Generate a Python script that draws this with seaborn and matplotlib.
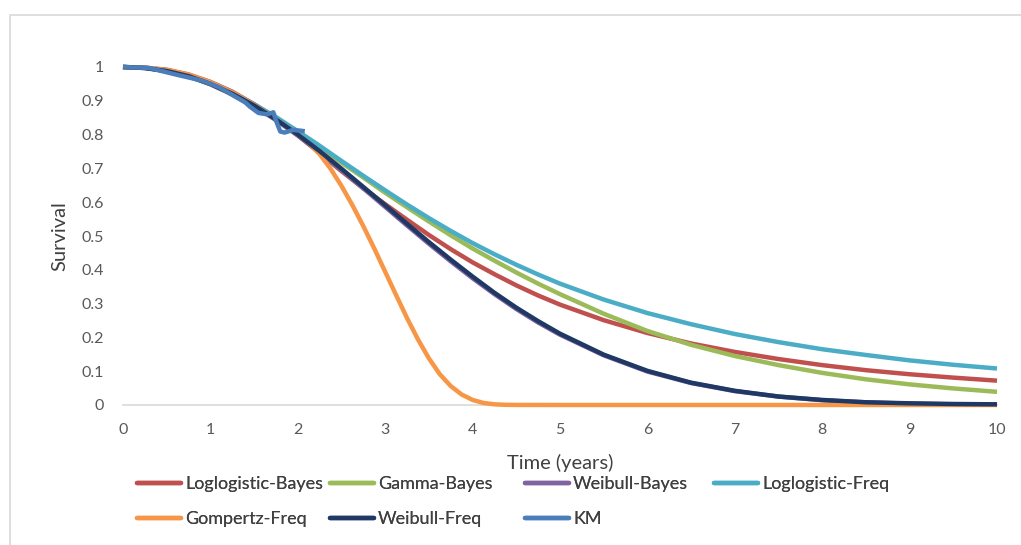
import numpy as np
import pandas as pd
import matplotlib
matplotlib.use("Agg")
import matplotlib.pyplot as plt
from matplotlib.lines import Line2D
from matplotlib.patches import Rectangle
import seaborn as sns

# ---------------- data ----------------
t = [0, 0.25, 0.5, 0.75, 1.0, 1.25, 1.5, 1.75, 2.0, 2.25, 2.5, 2.75, 3.0,
     3.25, 3.5, 3.75, 4.0, 4.25, 4.5, 4.75, 5.0, 5.5, 6.0, 6.5, 7.0, 7.5,
     8.0, 8.5, 9.0, 9.5, 10.0]

loglogistic_bayes = [1.0, 0.998, 0.992, 0.978, 0.956, 0.927, 0.890, 0.847, 0.799,
                     0.745, 0.692, 0.641, 0.594, 0.548, 0.503, 0.461, 0.422, 0.387,
                     0.354, 0.324, 0.297, 0.251, 0.213, 0.182, 0.157, 0.136, 0.118,
                     0.103, 0.091, 0.081, 0.072]
gamma_bayes = [1.0, 0.998, 0.989, 0.973, 0.949, 0.919, 0.885, 0.846, 0.805,
               0.761, 0.717, 0.673, 0.628, 0.585, 0.543, 0.502, 0.463, 0.427,
               0.392, 0.359, 0.328, 0.270, 0.219, 0.178, 0.145, 0.118, 0.095,
               0.076, 0.061, 0.049, 0.039]
weibull_bayes = [1.0, 0.997, 0.988, 0.972, 0.949, 0.919, 0.884, 0.843, 0.797,
                 0.747, 0.695, 0.641, 0.586, 0.531, 0.477, 0.425, 0.375, 0.328,
                 0.284, 0.244, 0.208, 0.147, 0.099, 0.065, 0.041, 0.025, 0.014,
                 0.008, 0.004, 0.002, 0.001]
loglogistic_freq = [1.0, 0.998, 0.989, 0.974, 0.952, 0.924, 0.890, 0.852, 0.810,
                    0.767, 0.722, 0.678, 0.635, 0.593, 0.553, 0.515, 0.479, 0.446,
                    0.415, 0.386, 0.359, 0.312, 0.272, 0.239, 0.210, 0.186, 0.165,
                    0.148, 0.132, 0.119, 0.108]
weibull_freq = [1.0, 0.997, 0.988, 0.973, 0.950, 0.921, 0.886, 0.845, 0.800,
                0.751, 0.699, 0.645, 0.591, 0.536, 0.482, 0.430, 0.380, 0.332,
                0.288, 0.248, 0.211, 0.149, 0.101, 0.066, 0.042, 0.025, 0.015,
                0.008, 0.005, 0.003, 0.002]

gompertz_t = [0, 0.25, 0.5, 0.75, 1.0, 1.25, 1.5, 1.75, 2.0, 2.125, 2.25, 2.375,
              2.5, 2.625, 2.75, 2.875, 3.0, 3.125, 3.25, 3.375, 3.5, 3.625,
              3.75, 3.875, 4.0, 4.125, 4.25, 4.375, 4.5, 5.0, 6.0, 7.0, 8.0,
              9.0, 10.0]
gompertz_freq = [1.0, 0.998, 0.991, 0.978, 0.955, 0.925, 0.888, 0.845, 0.800,
                 0.775, 0.742, 0.699, 0.648, 0.591, 0.529, 0.463, 0.394, 0.325,
                 0.257, 0.194, 0.138, 0.091, 0.056, 0.031, 0.015, 0.006, 0.002,
                 0.0006, 0.0002, 0.0, 0.0, 0.0, 0.0, 0.0, 0.0]

km_t = [0, 0.3, 0.6, 0.9, 1.1, 1.3, 1.4, 1.45, 1.55, 1.65, 1.72, 1.76, 1.8,
        1.85, 1.95, 2.08]
km_s = [1.0, 0.997, 0.978, 0.960, 0.940, 0.910, 0.895, 0.883, 0.864, 0.860,
        0.866, 0.835, 0.809, 0.806, 0.814, 0.810]

series_names = ["Loglogistic-Bayes", "Gamma-Bayes", "Weibull-Bayes",
                "Loglogistic-Freq", "Gompertz-Freq", "Weibull-Freq", "KM"]
colors = ["#C0504D", "#9BBB59", "#8064A2", "#4BACC6", "#F79646", "#1F3864", "#4A7EBB"]

x_ticks = [0, 1, 2, 3, 4, 5, 6, 7, 8, 9, 10]
y_ticks = [0, 0.1, 0.2, 0.3, 0.4, 0.5, 0.6, 0.7, 0.8, 0.9, 1]
y_tick_labels = ["0", "0.1", "0.2", "0.3", "0.4", "0.5", "0.6", "0.7", "0.8", "0.9", "1"]

# ---------------- long-form table ----------------
series_data = [
    ("Loglogistic-Bayes", t, loglogistic_bayes),
    ("Gamma-Bayes", t, gamma_bayes),
    ("Weibull-Bayes", t, weibull_bayes),
    ("Loglogistic-Freq", t, loglogistic_freq),
    ("Gompertz-Freq", gompertz_t, gompertz_freq),
    ("Weibull-Freq", t, weibull_freq),
    ("KM", km_t, km_s),
]
df = pd.concat([pd.DataFrame({"Time": tt, "Survival": ss, "Model": name})
                for name, tt, ss in series_data], ignore_index=True)

# ---------------- plotting ----------------
sns.set_style("white")
plt.rcParams["font.family"] = ["Lato", "DejaVu Sans"]

W, H = 1021, 545
fig = plt.figure(figsize=(W / 100, H / 100), dpi=100)
fig.patch.set_facecolor("white")

# outer chart frame
fig.patches.append(Rectangle((10 / W, -0.1), 1.2, 1.1 - 15 / H,
                             transform=fig.transFigure, fill=False,
                             edgecolor="#D9D9D9", linewidth=1.2))

ax = fig.add_axes([123 / W, 1 - 405 / H, 874 / W, 338 / H])
palette = dict(zip(series_names, colors))
sns.lineplot(data=df, x="Time", y="Survival", hue="Model", hue_order=series_names,
             palette=palette, linewidth=3.2, sort=False, estimator=None,
             legend=False, ax=ax)
for ln in ax.get_lines():
    ln.set_clip_on(False)
    ln.set_solid_capstyle("butt")
    ln.set_solid_joinstyle("round")

ax.set_xlim(0, 10)
ax.set_ylim(0, 1)
ax.set_xticks(x_ticks)
ax.set_xticklabels([str(v) for v in x_ticks])
ax.set_yticks(y_ticks)
ax.set_yticklabels(y_tick_labels)
ax.set_xlabel("")
ax.set_ylabel("")

for side in ["top", "right", "left"]:
    ax.spines[side].set_visible(False)
ax.spines["bottom"].set_color("#D9D9D9")
ax.spines["bottom"].set_linewidth(1.2)
ax.spines["bottom"].set_zorder(0.5)

ax.tick_params(axis="x", length=4, width=1, color="#D9D9D9", direction="out",
               pad=9, labelsize=11.5, labelcolor="#595959")
ax.tick_params(axis="y", length=0, pad=14, labelsize=11.5, labelcolor="#595959")
ax.grid(False)

fig.text(560 / W, 1 - 463 / H, "Time (years)", ha="center", va="center",
         fontsize=14.5, color="#404040")
fig.text(60 / W, 1 - 236 / H, "Survival", ha="center", va="center",
         rotation=90, fontsize=14.5, color="#404040")

# legend entries placed like the Excel legend
leg_pos = [(137, 484), (330, 484), (525, 484), (714, 484),
           (137, 519), (330, 519), (525, 519)]
for (px, py), name, col in zip(leg_pos, series_names, colors):
    h = Line2D([0], [0], color=col, linewidth=3.2)
    lg = fig.legend([h], [name], loc="center left",
                    bbox_to_anchor=(px / W, 1 - py / H),
                    frameon=False, borderpad=0, borderaxespad=0,
                    handlelength=2.45, handletextpad=0.22,
                    fontsize=13, labelcolor="#404040")
    fig.add_artist(lg)

fig.savefig("out.png", dpi=100, facecolor="white")
